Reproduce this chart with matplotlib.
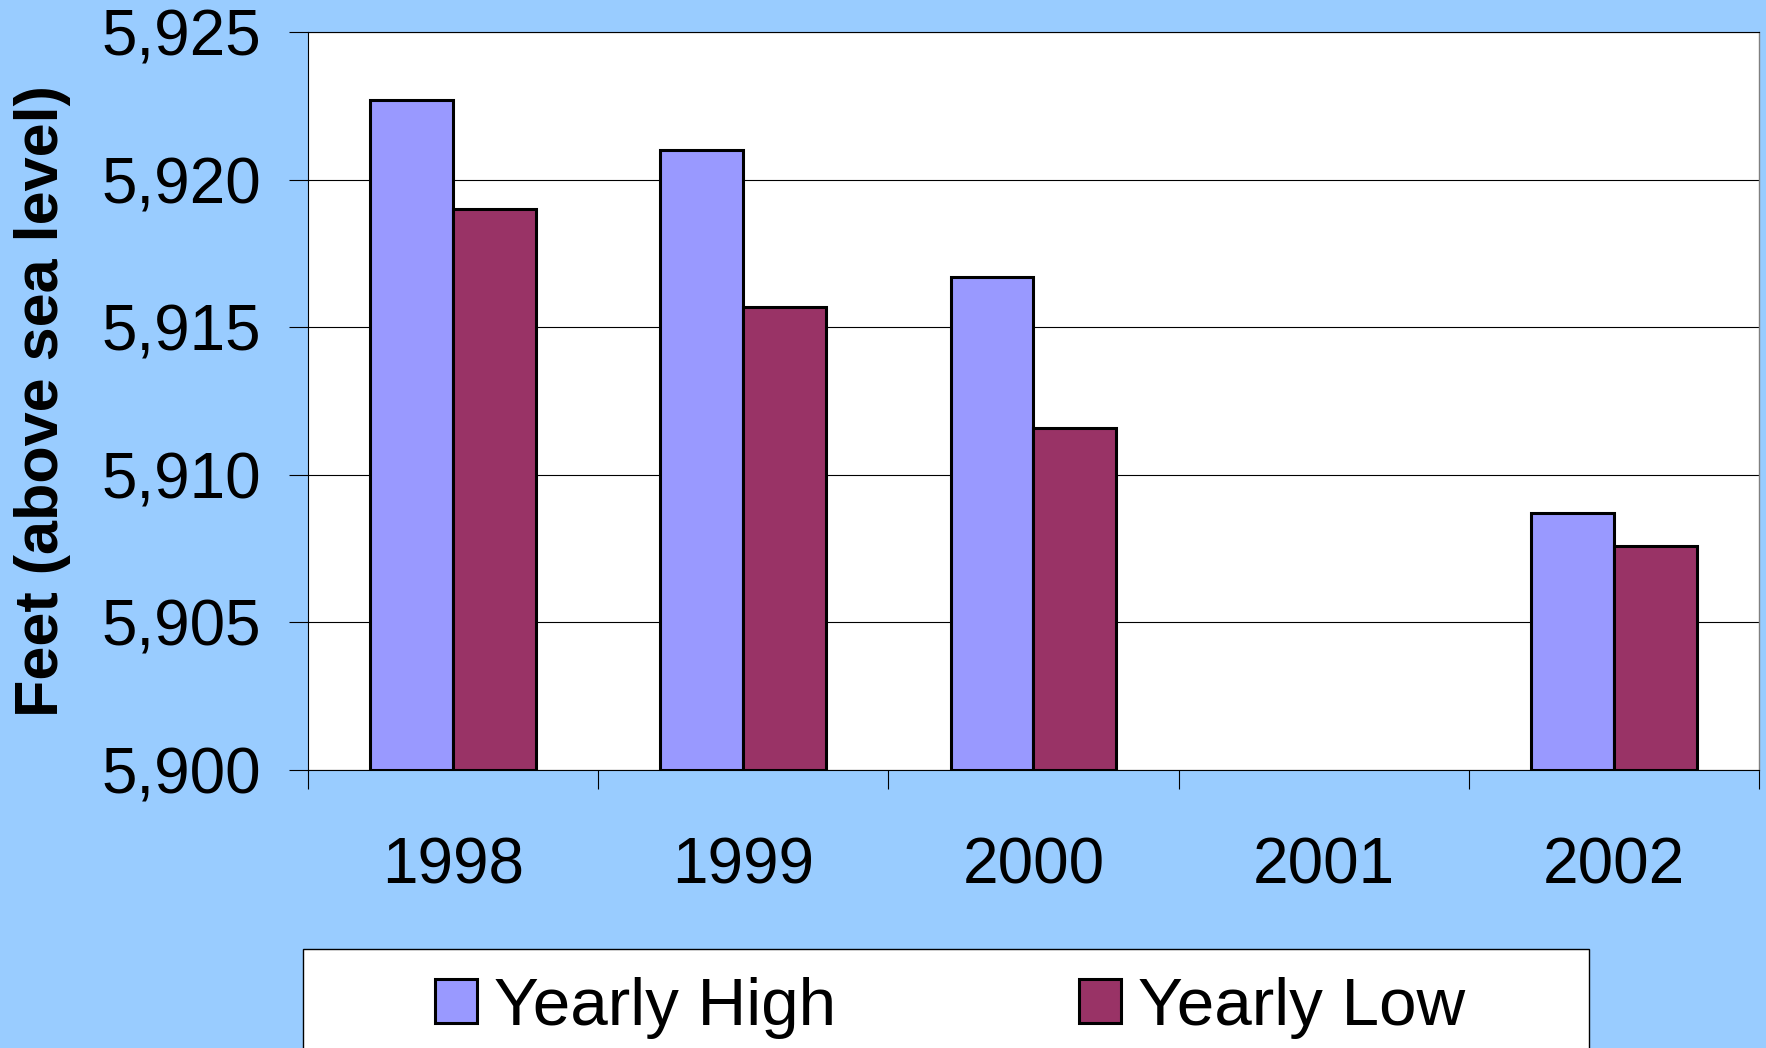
# import libraries
import numpy as np
import matplotlib.pyplot as plt
from matplotlib.patches import Rectangle
from matplotlib.ticker import FuncFormatter, FixedLocator

# chart data
years = ['1998', '1999', '2000', '2001', '2002']
yearly_high = [5922.7, 5921.0, 5916.7, np.nan, 5908.7]
yearly_low = [5919.0, 5915.7, 5911.6, np.nan, 5907.6]
y_ticks = [5900, 5905, 5910, 5915, 5920, 5925]

plt.rcParams['font.family'] = ['Liberation Sans', 'DejaVu Sans']

bg = '#99CCFF'
fig = plt.figure(figsize=(17.66, 10.48), dpi=100, facecolor=bg)
ax = fig.add_axes([0.1744, 0.2653, 0.996 - 0.1744, 0.9692 - 0.2653])
ax.set_facecolor('white')

# bars - two per year, excel style gap
x = np.arange(len(years))
w = 1 / 3.5
base = y_ticks[0]
high = np.array(yearly_high) - base
low = np.array(yearly_low) - base
ax.bar(x - w / 2, high, w, bottom=base, color='#9999FF', edgecolor='black', linewidth=2.2, label='Yearly High', zorder=3)
ax.bar(x + w / 2, low, w, bottom=base, color='#993366', edgecolor='black', linewidth=2.2, label='Yearly Low', zorder=3)

# axes limits and grid
ax.set_xlim(-0.5, len(years) - 0.5)
ax.set_ylim(y_ticks[0], y_ticks[-1])
ax.set_yticks(y_ticks)
ax.yaxis.set_major_formatter(FuncFormatter(lambda v, p: f'{v:,.0f}'))
ax.grid(axis='y', color='black', linewidth=0.8, zorder=0)
ax.set_axisbelow(True)

# x ticks: labels at centers, tick marks between categories
ax.set_xticks(x)
ax.set_xticklabels(years)
ax.xaxis.set_minor_locator(FixedLocator(np.arange(-0.5, len(years), 1)))
ax.tick_params(axis='x', which='major', length=0, pad=48, labelsize=46)
ax.tick_params(axis='x', which='minor', length=13.7, width=0.8, direction='out')
ax.tick_params(axis='y', length=13.7, width=0.8, direction='out', pad=20, labelsize=46)

for s in ['left', 'bottom', 'top']:
    ax.spines[s].set_color('black')
    ax.spines[s].set_linewidth(0.8)
ax.spines['right'].set_color('#808080')
ax.spines['right'].set_linewidth(1)

# y label
ax.set_ylabel('Feet (above sea level)', fontsize=44, fontweight='bold', va='center')
ax.yaxis.set_label_coords(-0.183, 0.5)

# legend box (runs off the bottom of the picture)
fig.patches.append(Rectangle((303 / 1766, -0.1), (1589 - 303) / 1766, 0.1 + 1 - 949 / 1048,
                             transform=fig.transFigure, facecolor='white', edgecolor='black',
                             linewidth=1, zorder=1))
fig.legend(loc='center', bbox_to_anchor=(950 / 1766, 1 - 1008 / 1048), ncol=2, frameon=False,
           fontsize=48.5, handlelength=0.63, handleheight=0.63, handletextpad=0.25,
           columnspacing=3.6)

fig.savefig('out.png', dpi=100, facecolor=bg)
